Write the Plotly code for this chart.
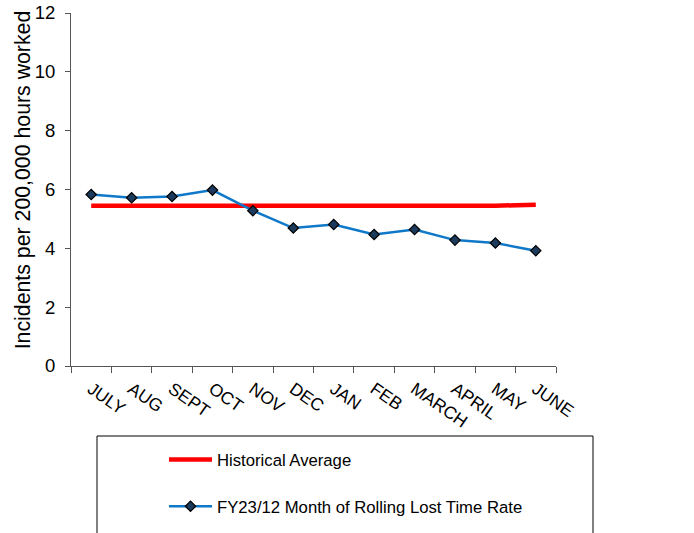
import plotly.graph_objects as go

months = ["JULY", "AUG", "SEPT", "OCT", "NOV", "DEC", "JAN", "FEB", "MARCH", "APRIL", "MAY", "JUNE"]
historical_avg = [5.45, 5.45, 5.43, 5.42, 5.43, 5.44, 5.44, 5.45, 5.45, 5.45, 5.45, 5.48]
rolling_rate = [5.83, 5.72, 5.76, 5.98, 5.28, 4.69, 4.81, 4.47, 4.64, 4.28, 4.18, 3.92]
y_ticks = [0, 2, 4, 6, 8, 10, 12]
y_title = "Incidents per 200,000 hours worked"

FONT = "Liberation Sans, Arial, sans-serif"
AXIS = "#555555"

fig = go.Figure()
fig.add_trace(go.Scatter(
    x=months, y=historical_avg, mode="lines", name="Historical Average",
    line=dict(color="#FF0000", width=4.5), legendgroup="a"))
fig.add_trace(go.Scatter(
    x=months, y=rolling_rate, mode="lines+markers",
    name="FY23/12 Month of Rolling Lost Time Rate",
    line=dict(color="#0F78C8", width=2.5),
    marker=dict(symbol="diamond", size=8, color="#1B3A5C",
                line=dict(color="#000000", width=1.2)),
    legendgroup="b"))

fig.update_layout(
    width=694, height=533,
    margin=dict(l=71, r=138, t=13, b=167, autoexpand=False),
    paper_bgcolor="white", plot_bgcolor="white",
    font=dict(family=FONT, color="#000000"),
    showlegend=True,
    legend=dict(
        x=(164 - 71) / 485, xanchor="left",
        y=-0.2157, yanchor="top",
        font=dict(family=FONT, size=16.7, color="#000000"),
        tracegroupgap=22, traceorder="grouped", itemwidth=43,
        bgcolor="rgba(0,0,0,0)", borderwidth=0,
    ),
    shapes=[dict(type="rect", xref="paper", yref="paper",
                 x0=(97 - 71) / 485, x1=(593 - 71) / 485,
                 y0=(366 - 545) / 353, y1=(366 - 436) / 353,
                 line=dict(color="#000000", width=1), fillcolor="rgba(0,0,0,0)")],
    annotations=[dict(text=y_title, textangle=-90, showarrow=False,
                      xref="paper", yref="paper",
                      x=(23 - 71) / 485, y=(365.7 - 180) / 353,
                      xanchor="center", yanchor="middle",
                      font=dict(family=FONT, size=21.3, color="#000000"))],
)

fig.update_xaxes(
    type="category", categoryorder="array", categoryarray=months,
    range=[-0.5, len(months) - 0.5], automargin=False,
    showline=True, linecolor=AXIS, linewidth=1,
    ticks="outside", ticklen=6, tickcolor=AXIS, tickson="boundaries",
    ticklabelstandoff=5,
    tickangle=35, tickfont=dict(family=FONT, size=17.5, color="#000000"),
    showgrid=False, zeroline=False,
)
fig.update_yaxes(
    range=[0, 12], tickvals=y_ticks, ticktext=[str(v) for v in y_ticks],
    automargin=False, ticklabeloverflow="allow",
    showline=True, linecolor=AXIS, linewidth=1,
    ticks="outside", ticklen=5, tickcolor=AXIS, ticklabelstandoff=6,
    tickfont=dict(family=FONT, size=18.5, color="#000000"),
    showgrid=False, zeroline=False,
)

fig.write_html("out.html", config={"displayModeBar": False},
               post_script="document.body.style.margin='0';")
